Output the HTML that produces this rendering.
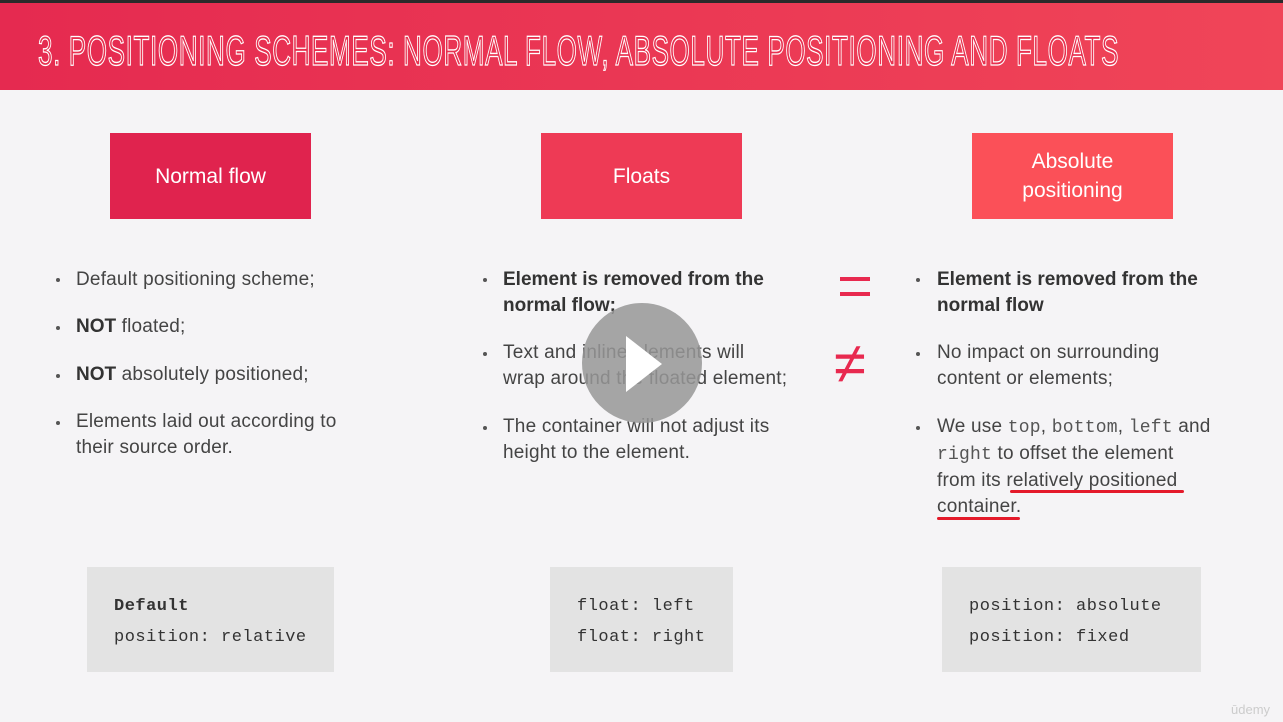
<!DOCTYPE html>
<html><head><style>
*{margin:0;padding:0;box-sizing:border-box}
body{width:1283px;height:722px;background:#f5f4f6;position:relative;overflow:hidden;font-family:"Liberation Sans",sans-serif;color:#444}
.hdr{position:absolute;left:0;top:0;width:1283px;height:90px;background:linear-gradient(90deg,#e52a50,#f04558);border-top:3px solid #2a2a2a}
.title{position:absolute;left:38px;top:24px;font-size:42px;letter-spacing:1px;color:#e8304f;-webkit-text-stroke:1.3px #fff;white-space:nowrap;transform:scaleX(0.62);transform-origin:left top;font-family:"Liberation Sans",sans-serif}
.box{position:absolute;color:#fff;font-size:21px;display:flex;align-items:center;justify-content:center;text-align:center;line-height:29px}
.t{position:absolute;font-size:19px;line-height:26px;color:#444;letter-spacing:0.2px}
.t b{color:#333;letter-spacing:0}
.dot{position:absolute;width:4px;height:4px;background:#555;border-radius:50%}
.code{position:absolute;background:#e3e3e3;font-family:"Liberation Mono",monospace;font-size:17px;line-height:31px;color:#333;padding-left:27px;padding-top:24px;letter-spacing:0.5px}
.m{font-family:"Liberation Mono",monospace;font-size:18px;color:#555}
.ul{position:absolute;height:3px;background:#e41a2a;border-radius:2px}
</style></head><body>
<div class="hdr"><div class="title">3. POSITIONING SCHEMES: NORMAL FLOW, ABSOLUTE POSITIONING AND FLOATS</div></div>

<div class="box" style="left:110px;top:133px;width:201px;height:86px;background:#e0234e">Normal flow</div>
<div class="box" style="left:541px;top:133px;width:201px;height:86px;background:#ee3a55">Floats</div>
<div class="box" style="left:972px;top:133px;width:201px;height:86px;background:#fb5058">Absolute<br>positioning</div>

<div class="dot" style="left:56px;top:278px"></div>
<div class="t" style="left:76px;top:267px">Default positioning scheme;</div>
<div class="dot" style="left:56px;top:326px"></div>
<div class="t" style="left:76px;top:314px"><b>NOT</b> floated;</div>
<div class="dot" style="left:56px;top:374px"></div>
<div class="t" style="left:76px;top:362px"><b>NOT</b> absolutely positioned;</div>
<div class="dot" style="left:56px;top:421px"></div>
<div class="t" style="left:76px;top:409px">Elements laid out according to<br>their source order.</div>

<div class="dot" style="left:483px;top:278px"></div>
<div class="t" style="left:503px;top:267px"><b>Element is removed from the<br>normal flow;</b></div>
<div class="dot" style="left:483px;top:352px"></div>
<div class="t" style="left:503px;top:340px">Text and inline elements will<br>wrap around the floated element;</div>
<div class="dot" style="left:483px;top:426px"></div>
<div class="t" style="left:503px;top:414px">The container will not adjust its<br>height to the element.</div>

<div style="position:absolute;left:840px;top:277px;width:30px;height:4px;background:#e8294f"></div>
<div style="position:absolute;left:840px;top:292px;width:30px;height:4px;background:#e8294f"></div>
<div style="position:absolute;left:834px;top:334px;font-size:58px;color:#e8294f;line-height:60px">≠</div>

<div class="dot" style="left:916px;top:278px"></div>
<div class="t" style="left:937px;top:267px"><b>Element is removed from the<br>normal flow</b></div>
<div class="dot" style="left:916px;top:352px"></div>
<div class="t" style="left:937px;top:340px">No impact on surrounding<br>content or elements;</div>
<div class="dot" style="left:916px;top:426px"></div>
<div class="t" style="left:937px;top:414px">We use <span class="m">top</span>, <span class="m">bottom</span>, <span class="m">left</span> and<br><span class="m">right</span> to offset the element<br>from its relatively positioned<br>container.</div>
<div class="ul" style="left:1010px;top:490px;width:174px"></div>
<div class="ul" style="left:937px;top:517px;width:83px"></div>

<div class="code" style="left:87px;top:567px;width:247px;height:105px"><b>Default</b><br>position: relative</div>
<div class="code" style="left:550px;top:567px;width:183px;height:105px">float: left<br>float: right</div>
<div class="code" style="left:942px;top:567px;width:259px;height:105px">position: absolute<br>position: fixed</div>

<div style="position:absolute;left:582px;top:303px;width:120px;height:120px;border-radius:50%;background:rgba(150,150,150,0.85)"></div>
<div style="position:absolute;left:626px;top:336px;width:0;height:0;border-top:28px solid transparent;border-bottom:28px solid transparent;border-left:36px solid #fff"></div>
<div style="position:absolute;left:1231px;top:702px;font-size:13px;color:#ccc">ūdemy</div>
</body></html>
